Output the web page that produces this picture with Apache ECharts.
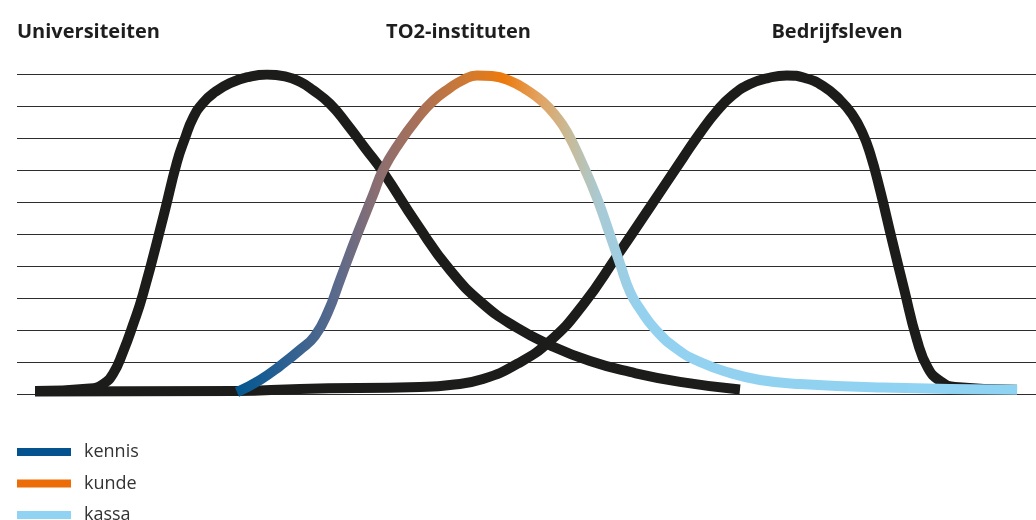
<!DOCTYPE html>
<html>
<head>
<meta charset="utf-8">
<script src="https://cdn.jsdelivr.net/npm/echarts@6/dist/echarts.min.js"></script>
<style>html,body{margin:0;padding:0;background:#fff}#c{width:1036px;height:520px}</style>
</head>
<body>
<div id="c"></div>
<script>
// Column headings
const headings = ['Universiteiten', 'TO2-instituten', 'Bedrijfsleven'];
// Legend entries
const legendNames = ['kennis', 'kunde', 'kassa'];
const legendColors = ['#04538f', '#ec6d07', '#91d3f3'];

// Universiteiten curve (x: position 0-100, y: level 0-10)
const uniX = [1.77, 7.16, 8.44, 9.42, 10.40, 11.38, 12.37, 14.33, 15.70, 16.49, 17.27, 18.25, 19.43, 20.90, 22.67, 24.53, 26.30, 27.77, 29.05, 30.72, 32.38, 34.15, 35.92, 39.25, 42.49, 45.73, 49.07, 52.31, 56.23, 60.16, 65.06, 70.95];
const uniY = [0.09, 0.17, 0.31, 0.63, 1.31, 2.16, 3.13, 5.51, 7.26, 8.01, 8.64, 9.11, 9.45, 9.73, 9.92, 10, 9.94, 9.77, 9.51, 9.08, 8.45, 7.70, 6.95, 5.32, 3.88, 2.82, 2.07, 1.53, 1.03, 0.69, 0.38, 0.14];

// TO2-instituten curve
const to2X = [21.59, 23.85, 25.81, 27.77, 29.24, 30.52, 31.70, 33.37, 34.94, 35.92, 37.59, 39.25, 40.82, 42.49, 43.77, 45.14, 46.61, 48.38, 50.05, 51.62, 52.90, 53.97, 55.45, 56.92, 58.19, 59.18, 60.16, 61.14, 62.61, 64.77, 67.03, 69.97, 72.91, 76.84, 84.98, 98.14];
const to2Y = [0.06, 0.44, 0.88, 1.38, 1.82, 2.57, 3.57, 4.98, 6.23, 7.01, 7.89, 8.61, 9.17, 9.58, 9.83, 9.97, 9.95, 9.80, 9.51, 9.14, 8.70, 8.20, 7.23, 6.13, 4.98, 4.07, 3.19, 2.66, 2.03, 1.41, 1.00, 0.66, 0.44, 0.31, 0.20, 0.13];

// Bedrijfsleven curve
const bedX = [1.77, 21.59, 27.77, 39.55, 42.49, 45.73, 49.07, 52.31, 55.54, 58.88, 62.12, 65.36, 67.03, 68.69, 70.26, 71.93, 73.70, 75.56, 77.33, 79.10, 80.77, 81.94, 82.93, 83.71, 84.69, 85.87, 87.05, 88.32, 89.40, 90.58, 92.05, 98.14];
const bedY = [0.08, 0.09, 0.16, 0.22, 0.28, 0.47, 0.94, 1.66, 2.79, 4.32, 5.85, 7.39, 8.17, 8.86, 9.36, 9.70, 9.89, 9.97, 9.89, 9.64, 9.20, 8.76, 8.20, 7.54, 6.39, 4.82, 3.29, 1.69, 0.81, 0.41, 0.22, 0.13];

const pairs = (xs, ys) => xs.map((x, i) => [x, ys[i]]);

const chart = echarts.init(document.getElementById('c'), null, {renderer: 'canvas'});
const black = '#1c1c1a';
const curveBase = {
  type: 'line', showSymbol: false, symbol: 'none', smooth: 0.5,
  silent: true, animation: false
};
const titleFont = {fontFamily: 'Open Sans', fontWeight: 'bold', fontSize: 20, color: '#1e1e1e'};
const legendTops = [440, 471.5, 503];
chart.setOption({
  animation: false,
  title: [
    {text: headings[0], left: 12, top: 17, textAlign: 'left', textStyle: titleFont},
    {text: headings[1], left: 453.5, top: 17, textAlign: 'center', textStyle: titleFont},
    {text: headings[2], left: 832, top: 17, textAlign: 'center', textStyle: titleFont}
  ],
  legend: legendNames.map((n, i) => ({
    orient: 'vertical', left: 17, top: legendTops[i], padding: 0, icon: 'rect', itemWidth: 54, itemHeight: 8,
    selectedMode: false,
    data: [n],
    textStyle: {fontFamily: 'Open Sans', fontSize: 18, color: '#333', lineHeight: 20, padding: [0, 0, 4, 8]}
  })),
  grid: {left: 17, right: 0, top: 74.5, bottom: 126},
  xAxis: {type: 'value', min: 0, max: 100, show: false},
  yAxis: {
    type: 'value', min: 0, max: 10, interval: 1,
    axisLine: {show: false}, axisTick: {show: false}, axisLabel: {show: false},
    splitLine: {show: true, lineStyle: {color: '#2d2d2d', width: 1.2}}
  },
  series: [
    Object.assign({}, curveBase, {name: 'Bedrijfsleven', data: pairs(bedX, bedY), lineStyle: {color: black, width: 10, cap: 'butt'}, itemStyle: {color: black}}),
    Object.assign({}, curveBase, {name: 'Universiteiten', data: pairs(uniX, uniY), lineStyle: {color: black, width: 10, cap: 'butt'}, itemStyle: {color: black}}),
    Object.assign({}, curveBase, {
      name: 'TO2-instituten', data: pairs(to2X, to2Y),
      lineStyle: {
        width: 10, cap: 'butt',
        color: new echarts.graphic.LinearGradient(0, 0, 1, 0, [
          {offset: 0, color: '#00568f'},
          {offset: 0.042, color: '#1a5d93'},
          {offset: 0.132, color: '#5b6a8c'},
          {offset: 0.183, color: '#8a6e72'},
          {offset: 0.235, color: '#a87058'},
          {offset: 0.30, color: '#d27a30'},
          {offset: 0.344, color: '#ec7a0c'},
          {offset: 0.388, color: '#e2a260'},
          {offset: 0.427, color: '#c8bb98'},
          {offset: 0.465, color: '#a9cad4'},
          {offset: 0.517, color: '#93d1ef'},
          {offset: 1, color: '#8fd3f3'}
        ])
      }
    }),
    {type: 'line', name: legendNames[0], data: [], itemStyle: {color: legendColors[0]}, lineStyle: {color: legendColors[0]}},
    {type: 'line', name: legendNames[1], data: [], itemStyle: {color: legendColors[1]}, lineStyle: {color: legendColors[1]}},
    {type: 'line', name: legendNames[2], data: [], itemStyle: {color: legendColors[2]}, lineStyle: {color: legendColors[2]}}
  ]
});
</script>
</body>
</html>
